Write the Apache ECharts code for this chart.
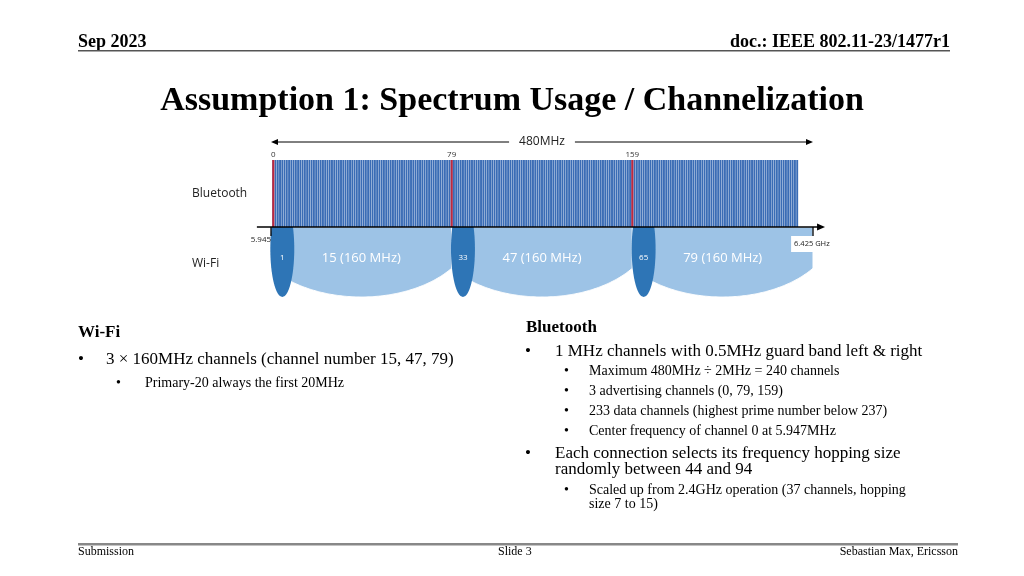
<!DOCTYPE html>
<html>
<head>
<meta charset="utf-8">
<script src="https://cdn.jsdelivr.net/npm/echarts@6/dist/echarts.min.js"></script>
<style>
html,body{margin:0;padding:0;background:#fff;}
#main{width:1024px;height:576px;}
</style>
</head>
<body>
<div id="main"></div>
<script>
// ---------- data ----------
// Bluetooth channels (one bar per 2 MHz channel, amplitude 1)
const btAmplitude = [
1,1,1,1,1,1,1,1,1,1,1,1,1,1,1,1,1,1,1,1,1,1,1,1,1,1,1,1,1,1,1,1,1,1,1,1,1,1,1,1,
1,1,1,1,1,1,1,1,1,1,1,1,1,1,1,1,1,1,1,1,1,1,1,1,1,1,1,1,1,1,1,1,1,1,1,1,1,1,1,1,
1,1,1,1,1,1,1,1,1,1,1,1,1,1,1,1,1,1,1,1,1,1,1,1,1,1,1,1,1,1,1,1,1,1,1,1,1,1,1,1,
1,1,1,1,1,1,1,1,1,1,1,1,1,1,1,1,1,1,1,1,1,1,1,1,1,1,1,1,1,1,1,1,1,1,1,1,1,1,1,1,
1,1,1,1,1,1,1,1,1,1,1,1,1,1,1,1,1,1,1,1,1,1,1,1,1,1,1,1,1,1,1,1,1,1,1,1,1,1,1,1,
1,1,1,1,1,1,1,1,1,1,1,1,1,1,1,1,1,1,1,1,1,1,1,1,1,1,1,1,1,1,1,1,1
];
const btCh0CenterMHz = 5947;
const btSpacingMHz = 2;
const btAdvertising = [0, 79, 159];
const btLabelChannels = ['0', '79', '159'];

// Wi-Fi 160 MHz channels
const wifiChannelNumbers = [15, 47, 79];
const wifiStartMHz = [5945, 6105, 6265];
const wifiWidthMHz = 160;
const wifiPrimaryNumbers = [1, 33, 65];
const wifiPrimaryWidthMHz = 20;

// frequency axis
const bandStartMHz = 5945;
const bandEndMHz = 6425;
const tickValues = [5945, 6425];
const tickLabels = ['5.945', '6.425 GHz'];
const spanLabel = '480MHz';

// ---------- styles ----------
const BAR_H = 67, WIFI_DEPTH = 70, WIFI_RX = 99;
const DIAG_FONT = '"Open Sans", "Noto Sans", sans-serif';
const SERIF = '"Liberation Serif", "DejaVu Serif", serif';

const chart = echarts.init(document.getElementById('main'), null, {renderer: 'canvas'});

function halfEllipse(api, x0, x1, cx, rx, depth, step) {
  const pts = [api.coord([x0, 0])];
  for (let x = x0; x <= x1 + 1e-9; x += step) {
    const t = (x - cx) / rx;
    const y = -depth * Math.sqrt(Math.max(0, 1 - t * t));
    pts.push(api.coord([x, y]));
  }
  pts.push(api.coord([x1, 0]));
  return pts;
}
// ellipse whose centre sits below the axis, clipped at the axis line
function droppedEllipse(api, cx, rx, cy, ry) {
  const left = [], right = [];
  for (let y = 0; y >= cy - ry - 1e-9; y -= 1) {
    const t = (y - cy) / ry;
    const w = rx * Math.sqrt(Math.max(0, 1 - t * t));
    left.push(api.coord([cx - w, y]));
    right.unshift(api.coord([cx + w, y]));
  }
  return left.concat(right);
}

const wifiData = wifiChannelNumbers.map((n, i) => [wifiStartMHz[i], wifiStartMHz[i] + wifiWidthMHz, n, wifiPrimaryNumbers[i]]);
const btData = btAmplitude.map((a, i) => [btCh0CenterMHz + btSpacingMHz * i, a, i]);
const advData = btAdvertising.map((ch, k) => [btCh0CenterMHz + btSpacingMHz * ch, btAmplitude[ch], k]);

function T(x, y, s, font) { return {type: 'text', left: x, top: y, style: {text: s, font: font, fill: '#000'}}; }
const B17 = '17px ' + SERIF, B14 = '14px ' + SERIF;

const graphics = [
  // header
  {type: 'text', left: 78, top: 33, style: {text: 'Sep 2023', font: 'bold 18px ' + SERIF, fill: '#000'}},
  {type: 'text', right: 74, top: 33, style: {text: 'doc.: IEEE 802.11-23/1477r1', font: 'bold 18px ' + SERIF, fill: '#000'}},
  {type: 'rect', shape: {x: 78, y: 50, width: 872, height: 1.5}, style: {fill: '#555'}},
  {type: 'text', left: 'center', top: 84, style: {text: 'Assumption 1: Spectrum Usage / Channelization', font: 'bold 34px ' + SERIF, fill: '#000'}},
  // footer
  {type: 'rect', shape: {x: 78, y: 543, width: 880, height: 2.5}, style: {fill: '#888'}},
  {type: 'text', left: 78, top: 546, style: {text: 'Submission', font: '12px ' + SERIF, fill: '#000'}},
  {type: 'text', left: 498, top: 546, style: {text: 'Slide 3', font: '12px ' + SERIF, fill: '#000'}},
  {type: 'text', right: 66, top: 546, style: {text: 'Sebastian Max, Ericsson', font: '12px ' + SERIF, fill: '#000'}},
  // diagram side labels
  {type: 'text', left: 192, top: 188, style: {text: 'Bluetooth', font: '12px ' + DIAG_FONT, fill: '#222'}},
  {type: 'text', left: 192, top: 258, style: {text: 'Wi-Fi', font: '12px ' + DIAG_FONT, fill: '#222'}},
  // Wi-Fi text block
  T(78, 324, 'Wi-Fi', 'bold ' + B17),
  T(78, 351, '•', B17),
  T(106, 351, '3 × 160MHz channels (channel number 15, 47, 79)', B17),
  T(116, 376, '•', B14),
  T(145, 376, 'Primary-20 always the first 20MHz', B14),
  // Bluetooth text block
  T(526, 319, 'Bluetooth', 'bold ' + B17),
  T(525, 343, '•', B17),
  T(555, 343, '1 MHz channels with 0.5MHz guard band left & right', B17),
  T(564, 364, '•', B14),
  T(589, 364, 'Maximum 480MHz ÷ 2MHz = 240 channels', B14),
  T(564, 384, '•', B14),
  T(589, 384, '3 advertising channels (0, 79, 159)', B14),
  T(564, 404, '•', B14),
  T(589, 404, '233 data channels (highest prime number below 237)', B14),
  T(564, 424, '•', B14),
  T(589, 424, 'Center frequency of channel 0 at 5.947MHz', B14),
  T(525, 445, '•', B17),
  {type: 'text', left: 555, top: 445, style: {text: 'Each connection selects its frequency hopping size\nrandomly between 44 and 94', font: B17, lineHeight: 16, fill: '#000'}},
  T(564, 483, '•', B14),
  {type: 'text', left: 589, top: 483, style: {text: 'Scaled up from 2.4GHz operation (37 channels, hopping\nsize 7 to 15)', font: B14, lineHeight: 14, fill: '#000'}}
];

const option = {
  animation: false,
  backgroundColor: '#fff',
  grid: {left: 271, width: 542, top: 160, height: 137},
  xAxis: {type: 'value', min: bandStartMHz, max: bandEndMHz, show: false},
  yAxis: {type: 'value', min: -70, max: 67, show: false},
  graphic: graphics,
  series: [
    { // Wi-Fi 160 MHz channels
      type: 'custom', z: 2, clip: false, data: wifiData,
      renderItem: function (params, api) {
        const s = api.value(0), e = api.value(1), n = api.value(2), p = api.value(3);
        const mid = (s + e) / 2;
        const light = halfEllipse(api, s, e, mid, WIFI_RX, WIFI_DEPTH, 1);
        const pcx = s + wifiPrimaryWidthMHz / 2;
        const dark = droppedEllipse(api, pcx, wifiPrimaryWidthMHz / 2 + 0.6, -22, 48);
        const lc = api.coord([mid, -31]);
        const pc = api.coord([pcx, -31]);
        return {type: 'group', children: [
          {type: 'polygon', shape: {points: light}, style: {fill: '#9dc3e6', stroke: '#fff', lineWidth: 1}},
          {type: 'polygon', shape: {points: dark}, style: {fill: '#2e75b6'}},
          {type: 'text', x: lc[0], y: lc[1], style: {text: n + ' (160 MHz)', font: '13px ' + DIAG_FONT, fill: '#fff', align: 'center', verticalAlign: 'middle'}},
          {type: 'text', x: pc[0], y: pc[1], style: {text: String(p), font: '8px ' + DIAG_FONT, fill: '#fff', align: 'center', verticalAlign: 'middle'}}
        ]};
      }
    },
    { // Bluetooth channels
      type: 'custom', z: 3, clip: false, data: btData,
      renderItem: function (params, api) {
        const c = api.value(0), a = api.value(1);
        const p0 = api.coord([c - 0.85, 0]);
        const p1 = api.coord([c + 0.85, a * BAR_H]);
        return {type: 'rect', shape: {x: p0[0], y: p1[1], width: p1[0] - p0[0], height: p0[1] - p1[1]}, style: {fill: '#3a6cb5'}};
      }
    },
    { // advertising channels
      type: 'custom', z: 4, clip: false, data: advData,
      renderItem: function (params, api) {
        const c = api.value(0), a = api.value(1);
        const p0 = api.coord([c - 0.9, 0]);
        const p1 = api.coord([c + 0.9, a * BAR_H]);
        const lp = api.coord([c, a * BAR_H + 5]);
        return {type: 'group', children: [
          {type: 'rect', shape: {x: p0[0], y: p1[1], width: p1[0] - p0[0], height: p0[1] - p1[1]}, style: {fill: '#c0283c'}},
          {type: 'text', x: lp[0], y: lp[1], style: {text: btLabelChannels[api.value(2)], font: '8px ' + DIAG_FONT, fill: '#333', align: 'center', verticalAlign: 'middle'}}
        ]};
      }
    },
    { // frequency axis, ticks and span arrow
      type: 'custom', z: 5, clip: false, data: [[bandStartMHz, bandEndMHz]],
      renderItem: function (params, api) {
        const s = api.value(0), e = api.value(1);
        const a0 = api.coord([s - 12.5, 0]);
        const a1 = api.coord([e + 8, 0]);
        const children = [
          {type: 'line', shape: {x1: a0[0], y1: a0[1], x2: a1[0] - 2, y2: a1[1]}, style: {stroke: '#000', lineWidth: 1.3}},
          {type: 'polygon', shape: {points: [[a1[0] + 3, a1[1]], [a1[0] - 5, a1[1] - 3.5], [a1[0] - 5, a1[1] + 3.5]]}, style: {fill: '#000'}}
        ];
        tickValues.forEach(function (v, k) {
          const t0 = api.coord([v, 0]), t1 = api.coord([v, -9]);
          children.push({type: 'line', shape: {x1: t0[0], y1: t0[1], x2: t1[0], y2: t1[1]}, style: {stroke: '#000', lineWidth: 1.3}});
          if (k === 0) {
            const lp = api.coord([v - 9, -13]);
            children.push({type: 'text', x: lp[0], y: lp[1], style: {text: tickLabels[k], font: '8px ' + DIAG_FONT, fill: '#222', align: 'center', verticalAlign: 'middle'}});
          } else {
            const lp = api.coord([v - 1, -17]);
            children.push({type: 'text', x: lp[0], y: lp[1], style: {text: tickLabels[k], font: '7.5px ' + DIAG_FONT, fill: '#222', align: 'center', verticalAlign: 'middle', backgroundColor: '#fff', padding: [4, 3, 4, 3]}});
          }
        });
        // 480 MHz span arrow
        const y = 85;
        const l = api.coord([s, y]), r = api.coord([e, y]), m = api.coord([(s + e) / 2, y]);
        children.push(
          {type: 'line', shape: {x1: l[0] + 4, y1: l[1], x2: r[0] - 4, y2: r[1]}, style: {stroke: '#000', lineWidth: 1}},
          {type: 'polygon', shape: {points: [[l[0], l[1]], [l[0] + 7, l[1] - 3], [l[0] + 7, l[1] + 3]]}, style: {fill: '#000'}},
          {type: 'polygon', shape: {points: [[r[0], r[1]], [r[0] - 7, r[1] - 3], [r[0] - 7, r[1] + 3]]}, style: {fill: '#000'}},
          {type: 'text', x: m[0], y: m[1], style: {text: spanLabel, font: '12px ' + DIAG_FONT, fill: '#222', align: 'center', verticalAlign: 'middle', backgroundColor: '#fff', padding: [2, 10, 2, 10]}}
        );
        return {type: 'group', children: children};
      }
    }
  ]
};
chart.setOption(option);
</script>
</body>
</html>
